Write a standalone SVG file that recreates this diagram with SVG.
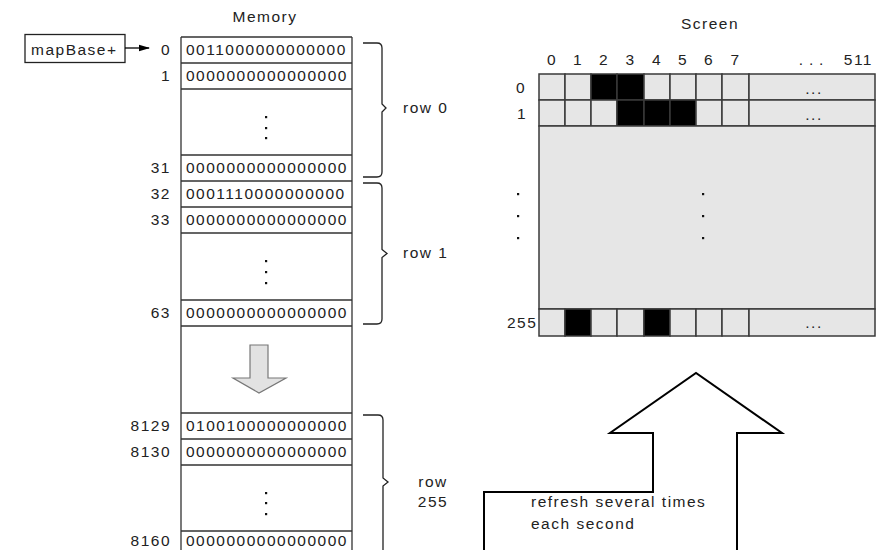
<svg xmlns="http://www.w3.org/2000/svg" width="892" height="550" viewBox="0 0 892 550">
  <style>
    text { font-family: "Liberation Sans", Arial, sans-serif; font-size: 15.5px; fill: #222; letter-spacing: 1.5px; }
    .num { text-anchor: end; }
    .bits { letter-spacing: 1.65px; }
    .mid { text-anchor: middle; }
    .line { stroke: #333; stroke-width: 1.3; fill: none; }
    .cell { fill: #e6e6e6; stroke: #3a3a3a; stroke-width: 1.5; }
    .on { fill: #000; stroke: #3a3a3a; stroke-width: 1.5; }
    .brace { stroke: #222; stroke-width: 1.3; fill: none; }
    .dot { fill: #111; }
    .ell { letter-spacing: 5.8px; }
  </style>
  <defs>
    <marker id="head" markerWidth="11" markerHeight="8" refX="10" refY="4" orient="auto" markerUnits="userSpaceOnUse">
      <path d="M0,0.8 L11,4 L0,7.2 Z" fill="#000"/>
    </marker>
  </defs>

  <rect width="892" height="550" fill="#fff"/>

  <!-- titles -->
  <text x="265" y="22" class="mid">Memory</text>
  <text x="710" y="29" class="mid">Screen</text>

  <!-- base pointer -->
  <g id="mapBase">
    <rect x="25" y="34.5" width="100" height="28" fill="#fff" stroke="#222" stroke-width="1.3"/>
    <text x="31" y="55">mapBase+</text>
  </g>

  <!-- memory column -->
  <g id="memory">
    <path class="line" d="M181,37 V550 M352,37 V550"/>
    <path class="line" d="M181,37 H352 M181,63 H352 M181,89 H352 M181,155 H352 M181,181 H352 M181,207 H352 M181,233 H352 M181,300 H352 M181,326 H352 M181,413 H352 M181,439 H352 M181,465 H352 M181,531 H352"/>
    <g class="num">
      <text x="171" y="55">0</text>
      <text x="171" y="81">1</text>
      <text x="171" y="173">31</text>
      <text x="171" y="199">32</text>
      <text x="171" y="225">33</text>
      <text x="171" y="318">63</text>
      <text x="171" y="431">8129</text>
      <text x="171" y="457">8130</text>
      <text x="171" y="546">8160</text>
    </g>
    <g class="bits">
      <text x="186" y="55">0011000000000000</text>
      <text x="186" y="81">0000000000000000</text>
      <text x="186" y="173">0000000000000000</text>
      <text x="186" y="199">0001110000000000</text>
      <text x="186" y="225">0000000000000000</text>
      <text x="186" y="318">0000000000000000</text>
      <text x="186" y="431">0100100000000000</text>
      <text x="186" y="457">0000000000000000</text>
      <text x="186" y="546">0000000000000000</text>
    </g>
    <!-- vertical ellipses -->
    <g class="dot">
      <rect x="265" y="116" width="2.2" height="2.2"/>
      <rect x="265" y="127" width="2.2" height="2.2"/>
      <rect x="265" y="137" width="2.2" height="2.2"/>
      <rect x="265" y="260" width="2.2" height="2.2"/>
      <rect x="265" y="271" width="2.2" height="2.2"/>
      <rect x="265" y="282" width="2.2" height="2.2"/>
      <rect x="265" y="492" width="2.2" height="2.2"/>
      <rect x="265" y="502" width="2.2" height="2.2"/>
      <rect x="265" y="513" width="2.2" height="2.2"/>
    </g>
    <!-- continuation arrow -->
    <path d="M250,345 H268 V378 H286 L259,393 L233,378 H250 Z" fill="#e2e2e2" stroke="#777" stroke-width="1.2"/>
  </g>

  <!-- row groupings -->
  <g id="rows">
    <path class="brace" d="M363,43 H377 Q382,43 382,48 V104 L386,108 L382,112 V172 Q382,177 377,177 H363"/>
    <path class="brace" d="M363,183 H377 Q382,183 382,188 V249.5 L387,253.5 L382,257.5 V319 Q382,324 377,324 H363"/>
    <path class="brace" d="M363,415 H378 Q383,415 383,420 V478 L388,482 L383,486 V560"/>
    <text x="403" y="113">row 0</text>
    <text x="403" y="258">row 1</text>
    <text x="433" y="487" class="mid">row</text>
    <text x="433" y="507" class="mid">255</text>
  </g>

  <!-- screen grid -->
  <g id="screen">
    <g class="mid">
      <text x="552" y="65">0</text>
      <text x="578" y="65">1</text>
      <text x="604" y="65">2</text>
      <text x="630.5" y="65">3</text>
      <text x="657" y="65">4</text>
      <text x="683" y="65">5</text>
      <text x="709" y="65">6</text>
      <text x="735.5" y="65">7</text>
      <text x="814" y="65" class="ell">...</text>
    </g>
    <text x="873" y="65" class="num">511</text>
    <text x="516" y="93">0</text>
    <text x="517" y="119">1</text>
    <text x="507" y="328">255</text>

    <!-- row 0 -->
    <rect class="cell" x="539" y="74" width="26" height="26"/>
    <rect class="cell" x="565" y="74" width="26" height="26"/>
    <rect class="on" x="591" y="74" width="26" height="26"/>
    <rect class="on" x="617" y="74" width="27" height="26"/>
    <rect class="cell" x="644" y="74" width="26" height="26"/>
    <rect class="cell" x="670" y="74" width="26" height="26"/>
    <rect class="cell" x="696" y="74" width="26" height="26"/>
    <rect class="cell" x="722" y="74" width="27" height="26"/>
    <rect class="cell" x="749" y="74" width="126" height="26"/>
    <!-- row 1 -->
    <rect class="cell" x="539" y="100" width="26" height="26"/>
    <rect class="cell" x="565" y="100" width="26" height="26"/>
    <rect class="cell" x="591" y="100" width="26" height="26"/>
    <rect class="on" x="617" y="100" width="27" height="26"/>
    <rect class="on" x="644" y="100" width="26" height="26"/>
    <rect class="on" x="670" y="100" width="26" height="26"/>
    <rect class="cell" x="696" y="100" width="26" height="26"/>
    <rect class="cell" x="722" y="100" width="27" height="26"/>
    <rect class="cell" x="749" y="100" width="126" height="26"/>
    <!-- rows 2..254 -->
    <rect class="cell" x="539" y="126" width="336" height="183" stroke="#555" stroke-width="2"/>
    <!-- row 255 -->
    <rect class="cell" x="539" y="309" width="26" height="27"/>
    <rect class="on" x="565" y="309" width="26" height="27"/>
    <rect class="cell" x="591" y="309" width="26" height="27"/>
    <rect class="cell" x="617" y="309" width="27" height="27"/>
    <rect class="on" x="644" y="309" width="26" height="27"/>
    <rect class="cell" x="670" y="309" width="26" height="27"/>
    <rect class="cell" x="696" y="309" width="26" height="27"/>
    <rect class="cell" x="722" y="309" width="27" height="27"/>
    <rect class="cell" x="749" y="309" width="126" height="27"/>

    <g class="mid ell">
      <text x="814" y="94">...</text>
      <text x="814" y="120">...</text>
      <text x="814" y="328">...</text>
    </g>
    <g class="dot">
      <rect x="517" y="193" width="2.2" height="2.2"/>
      <rect x="517" y="215" width="2.2" height="2.2"/>
      <rect x="517" y="237" width="2.2" height="2.2"/>
      <rect x="702" y="193" width="2.2" height="2.2"/>
      <rect x="702" y="215" width="2.2" height="2.2"/>
      <rect x="702" y="237" width="2.2" height="2.2"/>
    </g>
  </g>

  <!-- connectors -->
  <g id="connectors">
    <line x1="125" y1="48" x2="149" y2="48" stroke="#000" stroke-width="1.3" marker-end="url(#head)"/>
    <path d="M484,552 V492 H653 V433 H610 L696,373 L782,433 H737 V552" fill="#fff" stroke="#000" stroke-width="2"/>
    <text x="531" y="507">refresh several times</text>
    <text x="531" y="529">each second</text>
  </g>
</svg>
